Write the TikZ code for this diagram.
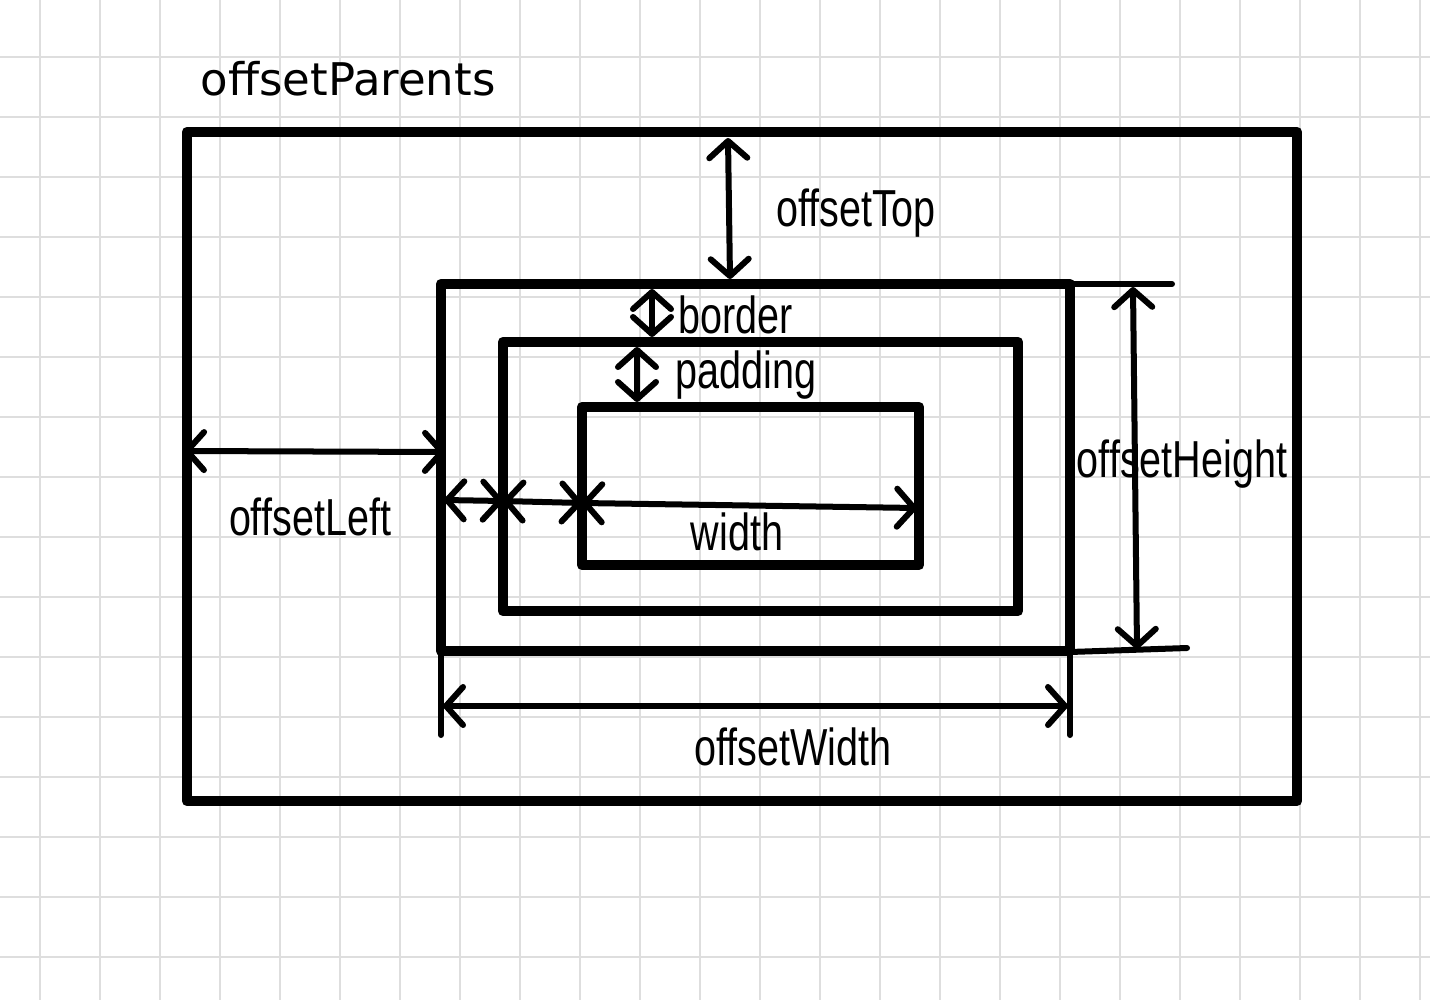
\documentclass[tikz,border=0pt]{standalone}
\usepackage{fontspec}
\newfontfamily\handfont[FakeStretch=0.76]{Liberation Sans}
\newfontfamily\uifont{DejaVu Sans}
\usetikzlibrary{arrows.meta}

\begin{document}
\begin{tikzpicture}[
  x=0.01cm, y=-0.01cm,
  grid line/.style={draw=black!13, line width=0.02cm},
  box/.style={draw, line width=0.105cm, line join=round, line cap=round},
  dim/.style={
    {Straight Barb[length=0.17cm, width=0.38cm, round]}-{Straight Barb[length=0.17cm, width=0.38cm, round]},
    line width=0.06cm, line cap=round
  },
  ext/.style={line width=0.06cm, line cap=round},
  hand/.style={font=\handfont\fontsize{14.8}{16}\selectfont, inner sep=0pt, anchor=base},
  title/.style={font=\uifont\fontsize{12.8}{14}\selectfont, inner sep=0pt, anchor=base west}
]
\useasboundingbox (0,0) rectangle (1430,1000);
\fill[white] (0,0) rectangle (1430,1000);

% Raster
\foreach \gx in {40,100,...,1420} \draw[grid line] (\gx,0) -- (\gx,1000);
\foreach \gy in {57,117,...,957} \draw[grid line] (0,\gy) -- (1430,\gy);

% Rahmen
\coordinate (OP-nw) at (187,132);  \coordinate (OP-se) at (1297,801);
\coordinate (BB-nw) at (441,284);  \coordinate (BB-se) at (1070,651);
\coordinate (PB-nw) at (503,342);  \coordinate (PB-se) at (1018,611);
\coordinate (CB-nw) at (582,407);  \coordinate (CB-se) at (919,565);
\draw[box] (OP-nw) rectangle (OP-se);
\draw[box] (BB-nw) rectangle (BB-se);
\draw[box] (PB-nw) rectangle (PB-se);
\draw[box] (CB-nw) rectangle (CB-se);

% Messpunkte
\coordinate (top1) at (728,138);   \coordinate (top2) at (730,279);
\coordinate (brd1) at (652,289);   \coordinate (brd2) at (652,337);
\coordinate (pad1) at (637,347);   \coordinate (pad2) at (637,402);
\coordinate (lft1) at (184,451);   \coordinate (lft2) at (445,452);
\coordinate (w1) at (444,500);     \coordinate (w2) at (503,501);
\coordinate (w3) at (582,503);     \coordinate (w4) at (917,508);
\coordinate (hgt1) at (1133,287);  \coordinate (hgt2) at (1137,649);
\coordinate (hx1a) at (1070,284);  \coordinate (hx1b) at (1172,284);
\coordinate (hx2a) at (1070,652);  \coordinate (hx2b) at (1187,648);
\coordinate (wx1a) at (441,651);   \coordinate (wx1b) at (441,735);
\coordinate (wx2a) at (1070,651);  \coordinate (wx2b) at (1070,735);
\coordinate (wid1) at (443,706);   \coordinate (wid2) at (1068,706);

% Hilfslinien
\draw[ext] (hx1a) -- (hx1b);
\draw[ext] (hx2a) -- (hx2b);
\draw[ext] (wx1a) -- (wx1b);
\draw[ext] (wx2a) -- (wx2b);

% Pfeile
\draw[dim] (top1) -- (top2);
\draw[dim] (brd1) -- (brd2);
\draw[dim] (pad1) -- (pad2);
\draw[dim] (lft1) -- (lft2);
\draw[dim] (w1) -- (w2);
\draw[dim] (w2) -- (w3);
\draw[dim] (w3) -- (w4);
\draw[dim] (hgt1) -- (hgt2);
\draw[dim] (wid1) -- (wid2);

% Beschriftung
\node[title] (parents) at (200,95) {offsetParents};
\node[hand] (lbltop) at (856,226) {offsetTop};
\node[hand] (lblbrd) at (736,333) {border};
\node[hand] (lblpad) at (746,388) {padding};
\node[hand] (lblhgt) at (1182,477) {offsetHeight};
\node[hand] (lbllft) at (310,535) {offsetLeft};
\node[hand] (lblwid) at (737,550) {width};
\node[hand] (lblow) at (793,765) {offsetWidth};
\end{tikzpicture}
\end{document}
